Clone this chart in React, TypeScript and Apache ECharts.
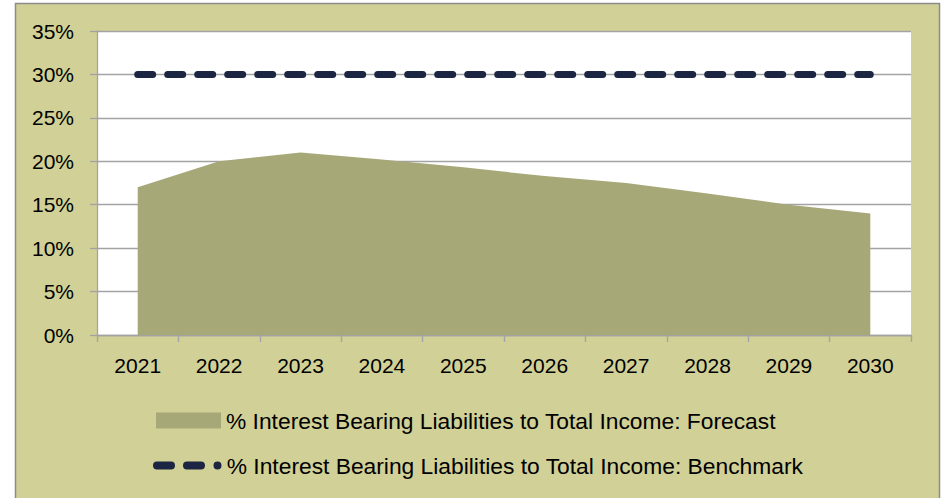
import React, { useEffect, useRef } from "react";
import * as echarts from "echarts";

const categories = ["2021", "2022", "2023", "2024", "2025", "2026", "2027", "2028", "2029", "2030"];
const forecastValues = [17.0, 20.0, 21.0, 20.2, 19.3, 18.3, 17.5, 16.3, 15.0, 14.0];
const benchmarkValues = [30, 30, 30, 30, 30, 30, 30, 30, 30, 30];
const forecastName = "% Interest Bearing Liabilities to Total Income: Forecast";
const benchmarkName = "% Interest Bearing Liabilities to Total Income: Benchmark";

const FONT = "Liberation Sans";
const BG = "#d1d096";
const AREA = "#a6a878";
const NAVY = "#1c2541";
const GRID = "#a3a3a3";

const dashIcon =
  "path://M4,0 H18 A4,4 0 0 1 18,8 H4 A4,4 0 0 1 4,0 Z M34,0 H48 A4,4 0 0 1 48,8 H34 A4,4 0 0 1 34,0 Z M64.5,0 A4,4 0 1 1 64.5,8 A4,4 0 1 1 64.5,0 Z";

export default function App() {
  const ref = useRef<HTMLDivElement>(null);
  useEffect(() => {
    if (!ref.current) return;
    const chart = echarts.init(ref.current, null, { renderer: "svg" });
    chart.setOption({
      animation: false,
      backgroundColor: "#ffffff",
      graphic: [
        {
          type: "rect",
          z: -10,
          silent: true,
          shape: { x: 15.5, y: 3.5, width: 924, height: 510 },
          style: { fill: BG, stroke: "#8c8c8c", lineWidth: 1.5 },
        },
      ],
      grid: {
        left: 97,
        top: 31,
        right: 32,
        bottom: 163,
        show: true,
        backgroundColor: "#ffffff",
        borderWidth: 0,
        z: 0,
      },
      legend: [
        {
          data: [{ name: forecastName, icon: "rect", itemStyle: { color: AREA } }],
          left: 156,
          top: 409,
          padding: 0,
          itemWidth: 65,
          itemHeight: 16,
          selectedMode: false,
          textStyle: { fontFamily: FONT, fontSize: 22.8, color: "#000000" },
        },
        {
          data: [{ name: benchmarkName, icon: dashIcon, itemStyle: { color: NAVY } }],
          left: 153,
          top: 454,
          padding: 0,
          itemWidth: 69,
          itemHeight: 8,
          selectedMode: false,
          textStyle: { fontFamily: FONT, fontSize: 22.8, color: "#000000" },
        },
      ],
      xAxis: {
        type: "category",
        data: categories,
        boundaryGap: true,
        axisLine: { show: true, lineStyle: { color: GRID, width: 1.3 } },
        axisTick: { show: true, length: 7, lineStyle: { color: GRID, width: 1.3 } },
        axisLabel: { fontFamily: FONT, fontSize: 21, color: "#000000", margin: 20 },
        splitLine: { show: false },
      },
      yAxis: {
        type: "value",
        min: 0,
        max: 35,
        interval: 5,
        axisLine: { show: true, lineStyle: { color: GRID, width: 1.3 } },
        axisTick: { show: true, length: 7, lineStyle: { color: GRID, width: 1.3 } },
        axisLabel: {
          fontFamily: FONT,
          fontSize: 21,
          color: "#000000",
          margin: 23,
          formatter: "{value}%",
        },
        splitLine: { show: true, lineStyle: { color: GRID, width: 1.3 } },
      },
      series: [
        {
          name: forecastName,
          type: "line",
          data: forecastValues,
          symbol: "none",
          lineStyle: { width: 0, color: AREA },
          itemStyle: { color: AREA },
          areaStyle: { color: AREA, opacity: 1 },
          z: 2,
        },
        {
          name: benchmarkName,
          type: "line",
          data: benchmarkValues,
          symbol: "none",
          itemStyle: { color: NAVY },
          lineStyle: { color: NAVY, width: 7, type: [15, 15], cap: "round" },
          z: 3,
        },
      ],
    });
    return () => chart.dispose();
  }, []);
  return (
    <div
      ref={ref}
      style={{ position: "absolute", left: 0, top: 0, width: 943, height: 498 }}
    />
  );
}
